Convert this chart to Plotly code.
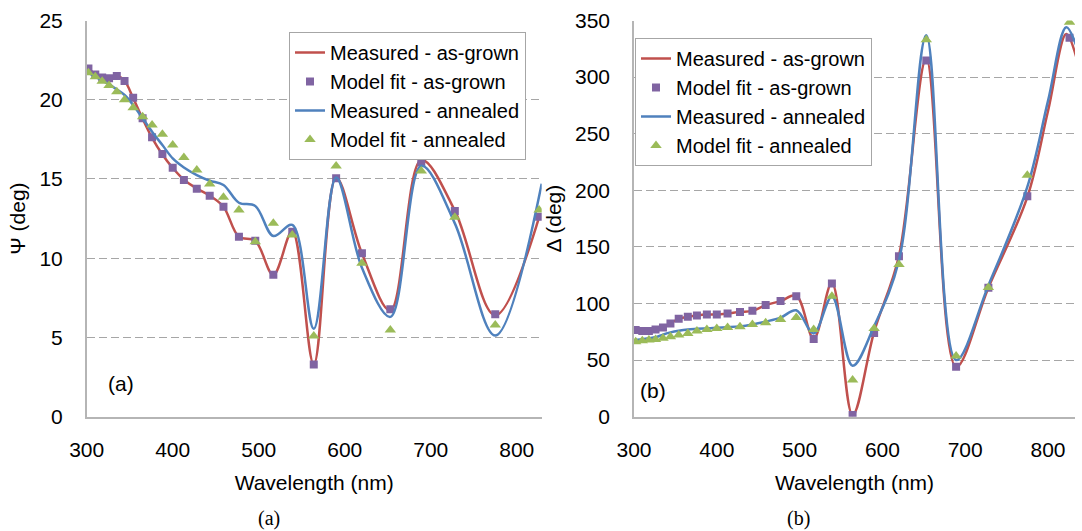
import plotly.graph_objects as go

# ---------------- data ----------------
wl = [302, 310, 318, 326, 335, 344, 354, 365, 376, 388, 400, 413, 428, 443,
      459, 477, 496, 517, 539, 564, 590, 620, 653, 689, 728, 775, 826]

# (a) Psi
psi_meas_grown = [21.97, 21.6, 21.4, 21.35, 21.5, 21.2, 20.1, 18.8, 17.6, 16.55,
                  15.7, 14.95, 14.4, 13.95, 13.25, 11.35, 11.1, 8.95, 11.7, 3.3,
                  15.1, 10.3, 6.7, 16.2, 13.0, 6.4, 12.6]
psi_fit_grown = [21.97, 21.6, 21.4, 21.35, 21.5, 21.18, 20.13, 18.83, 17.63, 16.57,
                 15.71, 14.93, 14.38, 13.94, 13.25, 11.36, 11.1, 8.95, 11.67, 3.3,
                 15.04, 10.31, 6.78, 16.05, 12.98, 6.46, 12.62]
wl_psi_ann = [302, 310, 318, 326, 335, 344, 354, 365, 376, 388, 400, 413, 428, 443,
              459, 477, 496, 517, 539, 564, 590, 620, 653, 689, 728, 775, 829]
psi_meas_ann = [21.7, 21.45, 21.2, 20.97, 20.65, 20.3, 19.67, 18.83, 17.98, 17.14,
                16.3, 15.73, 15.25, 14.89, 14.62, 13.5, 13.3, 11.4, 12.1, 5.55,
                15.1, 9.4, 6.3, 15.83, 12.2, 5.12, 14.7]
psi_fit_ann = [21.7, 21.45, 21.17, 20.9, 20.5, 20.0, 19.5, 18.93, 18.4, 17.82,
               17.14, 16.36, 15.56, 14.68, 13.84, 13.04, 11.04, 12.2, 11.46, 5.1,
               15.82, 9.68, 5.47, 15.5, 12.58, 5.79, 13.04]

# (b) Delta
wl_delta_meas = [302, 310, 318, 326, 335, 344, 354, 365, 376, 388, 400, 413, 428, 443,
                 459, 477, 496, 517, 539, 564, 590, 620, 653, 689, 728, 775, 800, 822, 834]
delta_meas_grown = [76.5, 75.6, 75.6, 77.1, 78.9, 82.4, 86.5, 88.2, 89.5, 90.3,
                    90.3, 91.2, 92.6, 93.5, 98.6, 102.1, 107, 69, 118, 1.5,
                    75, 142, 316, 44, 114, 194, 270, 338, 318]
delta_fit_grown = [76.5, 75.6, 75.6, 77.1, 78.9, 82.4, 86.5, 88.2, 89.5, 90.3,
                   90.3, 91.2, 92.6, 93.5, 98.6, 102.1, 106.5, 68.6, 117.7, 1.5,
                   74, 141.8, 314.7, 44.1, 114, 194.7, 334.8]
delta_meas_ann = [67.7, 68.5, 69.3, 70.2, 72.5, 74.5, 76, 77.1, 77.6, 78,
                  78.5, 79, 79.8, 81.5, 84, 87.5, 94, 73.6, 106, 45,
                  80, 138, 337, 50, 116, 203, 279, 344, 328]
delta_fit_ann = [66.2, 67.1, 67.7, 68.3, 69.2, 70.6, 72.1, 73.6, 75.6, 77.1,
                 78.0, 78.9, 79.4, 81.5, 82.9, 85.9, 87.7, 77.1, 106.5, 32.4,
                 78, 134.5, 333, 53.6, 114.2, 213.3, 348.5]

x_ticks = [300, 400, 500, 600, 700, 800]
names = ["Measured - as-grown", "Model fit - as-grown",
         "Measured - annealed", "Model fit - annealed"]

RED = "#C0504D"
BLUE = "#4F81BD"
PURPLE = "#8064A2"
GREEN = "#9BBB59"
FONT = "Liberation Sans, Arial, sans-serif"
SERIF = "Liberation Serif, Times New Roman, serif"

fig = go.Figure()


def add_panel(xa, ya, leg, x_mg, y_mg, x_fg, y_fg, x_ma, y_ma, x_fa, y_fa):
    fig.add_trace(go.Scatter(x=x_mg, y=y_mg, mode="lines", name=names[0],
                             line=dict(color=RED, width=2.5, shape="spline"),
                             xaxis=xa, yaxis=ya, legend=leg))
    fig.add_trace(go.Scatter(x=x_fg, y=y_fg, mode="markers", name=names[1],
                             marker=dict(symbol="square", size=8, color=PURPLE),
                             xaxis=xa, yaxis=ya, legend=leg))
    fig.add_trace(go.Scatter(x=x_ma, y=y_ma, mode="lines", name=names[2],
                             line=dict(color=BLUE, width=2.5, shape="spline"),
                             xaxis=xa, yaxis=ya, legend=leg))
    fig.add_trace(go.Scatter(x=x_fa, y=y_fa, mode="markers", name=names[3],
                             marker=dict(symbol="triangle-up", size=10, color=GREEN),
                             xaxis=xa, yaxis=ya, legend=leg))


add_panel("x", "y", "legend", wl, psi_meas_grown, wl, psi_fit_grown,
          wl_psi_ann, psi_meas_ann, wl, psi_fit_ann)
add_panel("x2", "y2", "legend2", wl_delta_meas, delta_meas_grown, wl, delta_fit_grown,
          wl_delta_meas, delta_meas_ann, wl, delta_fit_ann)

W, H = 1082, 531
ydom = [(H - 416.7) / H, (H - 20.5) / H]

axis_common = dict(showline=True, linecolor="#B5B5B5", linewidth=1.5,
                   zeroline=False, ticks="",
                   tickfont=dict(size=21, color="black", family=FONT),
                   title_font=dict(size=21, color="black", family=FONT))

legend_common = dict(xanchor="left", yanchor="top", bgcolor="white",
                     bordercolor="#A6A6A6", borderwidth=1,
                     font=dict(size=20, color="black", family=FONT))

fig.update_layout(
    width=W, height=H,
    margin=dict(l=0, r=0, t=0, b=0),
    template="none",
    paper_bgcolor="white", plot_bgcolor="white",
    font=dict(family=FONT, color="black"),
    xaxis=dict(domain=[86.7 / W, 541.7 / W], range=[300, 829], tickvals=x_ticks,
               showgrid=False, anchor="y", title_text="Wavelength (nm)",
               ticklabelstandoff=13, title_standoff=16, **axis_common),
    yaxis=dict(domain=ydom, range=[0, 25], dtick=5, showgrid=True,
               gridcolor="#A6A6A6", griddash="8px,4px", gridwidth=1, anchor="x",
               title_text="Ψ (deg)", ticklabelstandoff=18, title_standoff=8,
               **axis_common),
    xaxis2=dict(domain=[634 / W, 1075 / W], range=[300, 832.6], tickvals=x_ticks,
                showgrid=False, anchor="y2", title_text="Wavelength (nm)",
                ticklabelstandoff=13, title_standoff=16, **axis_common),
    yaxis2=dict(domain=ydom, range=[0, 350], dtick=50, showgrid=True,
                gridcolor="#A6A6A6", griddash="8px,4px", gridwidth=1, anchor="x2",
                title_text="Δ (deg)", ticklabelstandoff=18, title_standoff=8,
                **axis_common),
    legend=dict(x=289 / W, y=(H - 32) / H, **legend_common),
    legend2=dict(x=635 / W, y=(H - 38) / H, **legend_common),
    annotations=[
        dict(text="(a)", x=121 / W, y=(H - 383) / H, xref="paper", yref="paper",
             xanchor="center", yanchor="middle", showarrow=False,
             font=dict(size=21, family=FONT, color="black")),
        dict(text="(b)", x=653 / W, y=(H - 390) / H, xref="paper", yref="paper",
             xanchor="center", yanchor="middle", showarrow=False,
             font=dict(size=21, family=FONT, color="black")),
        dict(text="(a)", x=269 / W, y=(H - 518) / H, xref="paper", yref="paper",
             xanchor="center", yanchor="middle", showarrow=False,
             font=dict(size=20, family=SERIF, color="black")),
        dict(text="(b)", x=798 / W, y=(H - 518) / H, xref="paper", yref="paper",
             xanchor="center", yanchor="middle", showarrow=False,
             font=dict(size=20, family=SERIF, color="black")),
    ],
)

fig.write_html("out.html")
